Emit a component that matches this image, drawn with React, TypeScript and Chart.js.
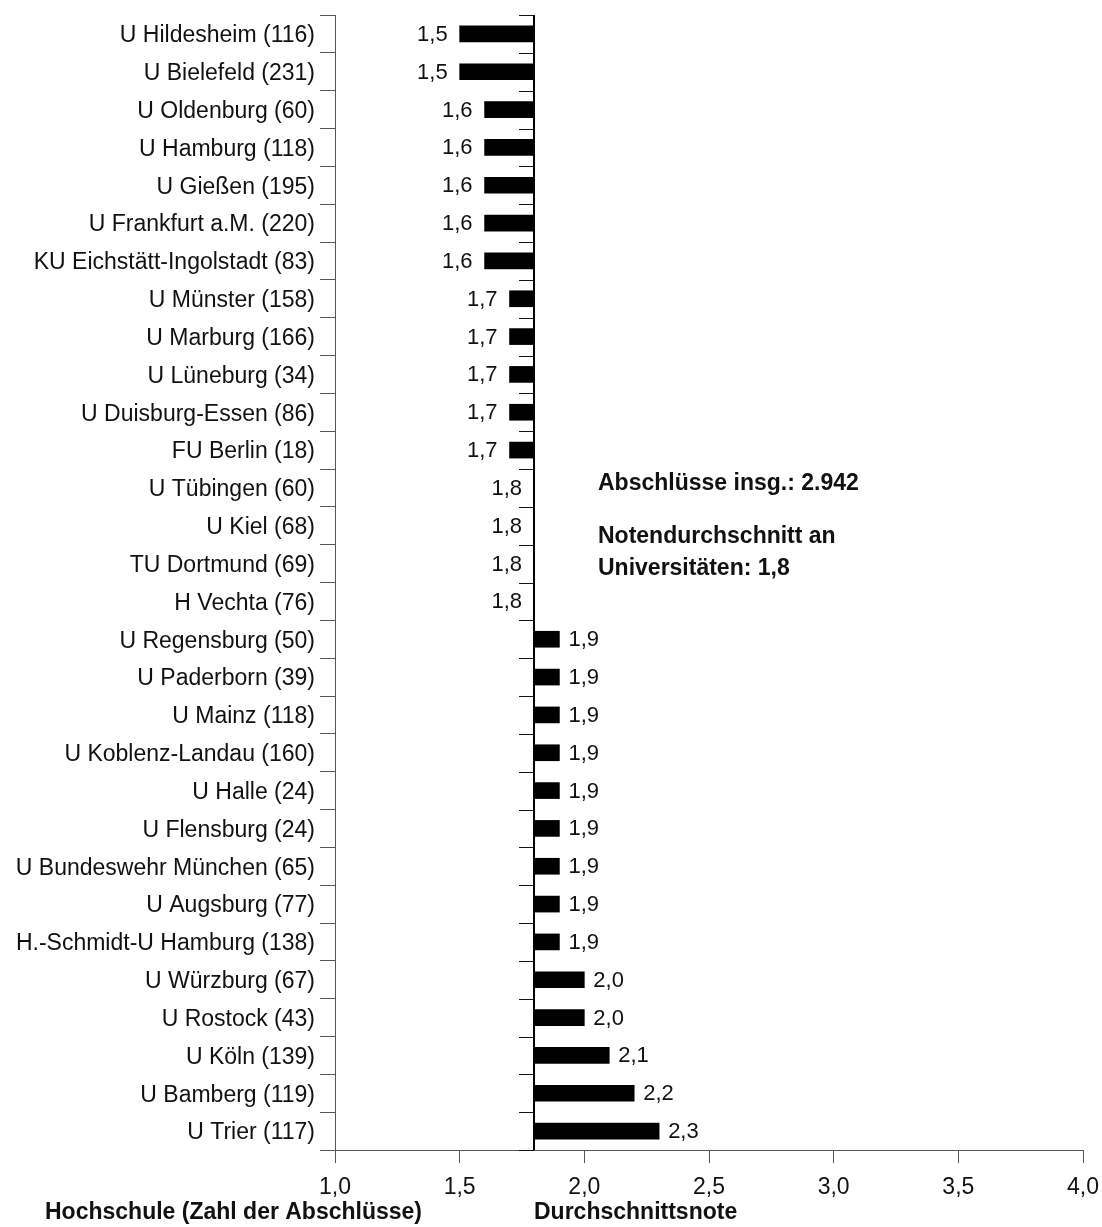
import React, { useEffect, useRef } from 'react';
import { Chart, registerables } from 'chart.js';

Chart.register(...registerables);

const universities = [
  'U Hildesheim (116)',
  'U Bielefeld (231)',
  'U Oldenburg (60)',
  'U Hamburg (118)',
  'U Gießen (195)',
  'U Frankfurt a.M. (220)',
  'KU Eichstätt-Ingolstadt (83)',
  'U Münster (158)',
  'U Marburg (166)',
  'U Lüneburg (34)',
  'U Duisburg-Essen (86)',
  'FU Berlin (18)',
  'U Tübingen (60)',
  'U Kiel (68)',
  'TU Dortmund (69)',
  'H Vechta (76)',
  'U Regensburg (50)',
  'U Paderborn (39)',
  'U Mainz (118)',
  'U Koblenz-Landau (160)',
  'U Halle (24)',
  'U Flensburg (24)',
  'U Bundeswehr München (65)',
  'U Augsburg (77)',
  'H.-Schmidt-U Hamburg (138)',
  'U Würzburg (67)',
  'U Rostock (43)',
  'U Köln (139)',
  'U Bamberg (119)',
  'U Trier (117)',
];

const grades = [
  1.5, 1.5, 1.6, 1.6, 1.6, 1.6, 1.6, 1.7, 1.7, 1.7, 1.7, 1.7, 1.8, 1.8, 1.8,
  1.8, 1.9, 1.9, 1.9, 1.9, 1.9, 1.9, 1.9, 1.9, 1.9, 2.0, 2.0, 2.1, 2.2, 2.3,
];

const averageGrade = 1.8;
const xMin = 1.0;
const xMax = 4.0;
const xStep = 0.5;

const categoryTitle = 'Hochschule (Zahl der Abschlüsse)';
const valueTitle = 'Durchschnittsnote';
const noteLines = ['Abschlüsse insg.: 2.942', 'Notendurchschnitt an', 'Universitäten: 1,8'];

const FONT = "'Liberation Sans', Arial, Helvetica, sans-serif";
const fmt = (v: number) => v.toFixed(1).replace('.', ',');

const decorPlugin = {
  id: 'decor',
  afterDatasetsDraw(chart: any) {
    const { ctx, chartArea } = chart;
    const x = chart.scales.x;
    const y = chart.scales.y;
    const bx = Math.round(x.getPixelForValue(averageGrade));
    ctx.save();

    // vertical reference line at the average grade
    ctx.strokeStyle = '#000';
    ctx.lineWidth = 2;
    ctx.beginPath();
    ctx.moveTo(bx, chartArea.top);
    ctx.lineTo(bx, chartArea.bottom);
    ctx.stroke();

    // small ticks at category boundaries on the reference line
    ctx.lineWidth = 1;
    ctx.strokeStyle = '#111';
    for (let i = 0; i <= universities.length; i++) {
      const yy = Math.round(y.getPixelForValue(i - 0.5)) + 0.5;
      ctx.beginPath();
      ctx.moveTo(bx - 15, yy);
      ctx.lineTo(bx, yy);
      ctx.stroke();
    }

    // value labels
    ctx.fillStyle = '#111';
    ctx.font = `22px ${FONT}`;
    ctx.textBaseline = 'middle';
    const meta = chart.getDatasetMeta(0);
    meta.data.forEach((bar: any, i: number) => {
      const v = grades[i];
      const label = fmt(v);
      const yy = bar.y + 1;
      if (v < averageGrade - 1e-9) {
        ctx.textAlign = 'right';
        ctx.fillText(label, x.getPixelForValue(v) - 12, yy);
      } else if (Math.abs(v - averageGrade) < 1e-9) {
        ctx.textAlign = 'right';
        ctx.fillText(label, bx - 12, yy);
      } else {
        ctx.textAlign = 'left';
        ctx.fillText(label, x.getPixelForValue(v) + 9, yy);
      }
    });

    // annotation text
    ctx.font = `bold 23px ${FONT}`;
    ctx.textAlign = 'left';
    ctx.textBaseline = 'alphabetic';
    ctx.fillStyle = '#111';
    ctx.fillText(noteLines[0], 598, 490);
    ctx.fillText(noteLines[1], 598, 543);
    ctx.fillText(noteLines[2], 598, 575);

    // axis titles
    ctx.fillText(categoryTitle, 45, 1219);
    ctx.fillText(valueTitle, bx, 1219);

    ctx.restore();
  },
};

export default function App() {
  const canvasRef = useRef<HTMLCanvasElement | null>(null);

  useEffect(() => {
    const canvas = canvasRef.current;
    if (!canvas) return;
    const chart = new Chart(canvas, {
      type: 'bar',
      data: {
        labels: universities,
        datasets: [
          {
            data: grades.map((g) => [averageGrade, g]) as any,
            backgroundColor: '#000',
            borderWidth: 0,
            barThickness: 16,
          },
        ],
      },
      options: {
        indexAxis: 'y',
        responsive: false,
        animation: false,
        devicePixelRatio: 1,
        layout: { padding: { top: 15, right: 19, left: 0, bottom: 0 } },
        plugins: {
          legend: { display: false },
          tooltip: { enabled: false },
          title: { display: false },
        },
        scales: {
          y: {
            type: 'category',
            position: 'left',
            afterFit: (s: any) => {
              s.width = 335;
              s.paddingTop = 0;
              s.paddingBottom = 0;
            },
            grid: {
              display: true,
              drawOnChartArea: false,
              drawTicks: true,
              tickLength: 15,
              color: '#555',
              lineWidth: 1,
              offset: true,
            },
            border: { display: true, color: '#555', width: 1 },
            ticks: {
              color: '#111',
              font: { family: FONT, size: 23 },
              padding: 5,
              labelOffset: 2,
              autoSkip: false,
            },
          },
          x: {
            type: 'linear',
            position: 'bottom',
            min: xMin,
            max: xMax,
            afterFit: (s: any) => {
              s.height = 77;
              s.paddingLeft = 0;
              s.paddingRight = 0;
            },
            ticks: {
              stepSize: xStep,
              callback: (v: any) => fmt(Number(v)),
              color: '#111',
              font: { family: FONT, size: 23 },
              padding: 11,
              maxRotation: 0,
            },
            grid: {
              drawOnChartArea: false,
              drawTicks: true,
              tickLength: 13,
              color: '#555',
              lineWidth: 1,
            },
            border: { display: true, color: '#555', width: 1 },
          },
        },
      } as any,
      plugins: [decorPlugin],
    });
    return () => chart.destroy();
  }, []);

  return (
    <div style={{ position: 'absolute', left: 0, top: 0, width: 1102, height: 1227, background: '#fff' }}>
      <canvas ref={canvasRef} width={1102} height={1227} style={{ width: 1102, height: 1227, display: 'block' }} />
    </div>
  );
}
